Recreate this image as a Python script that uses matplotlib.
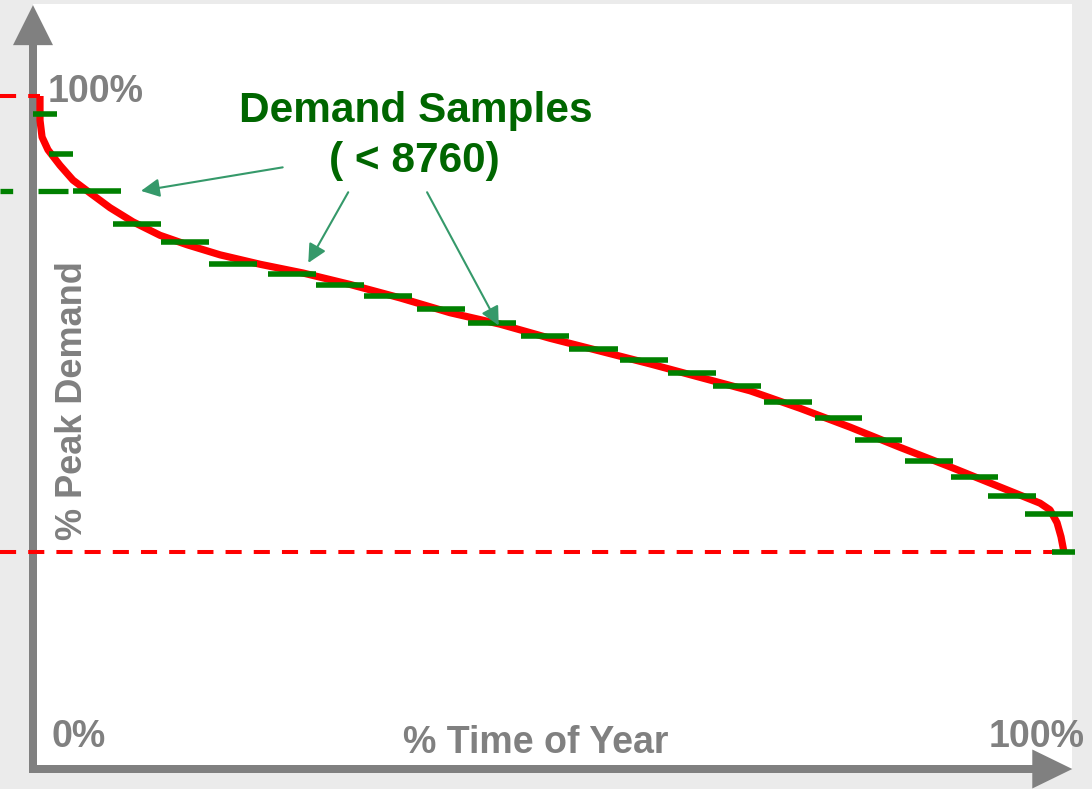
import matplotlib.pyplot as plt
from matplotlib.patches import FancyArrow, Rectangle

# load duration curve (% time of year -> % peak demand)
curve_time = [0, 0, 0.2, 0.78, 1.95, 3.22, 4.88, 6.84, 9.08, 11.72, 14.36, 17.58,
              21.48, 25.68, 30.27, 35.16, 40.04, 44.92, 49.8, 54.69, 59.57, 64.45,
              69.34, 74.22, 79.1, 83.98, 88.87, 93.75, 97.66, 98.63, 99.32, 99.71, 100]
curve_demand = [100, 96.4, 93.9, 92.0, 89.7, 87.5, 85.6, 83.4, 81.3, 79.3, 77.9, 76.4,
                75.0, 73.7, 72.0, 70.0, 67.8, 66.1, 64.0, 62.1, 60.2, 58.2,
                56.2, 53.6, 50.8, 47.8, 44.9, 41.9, 39.5, 38.5, 36.6, 34.5, 32.2]

# demand samples: start / end of time window and sampled level
sample_start = [-0.68, 0.88, 3.22, 7.13, 11.8, 16.5, 22.3, 26.95, 31.6, 36.8, 41.8, 47.0,
                51.7, 56.6, 61.3, 65.7, 70.7, 75.7, 79.6, 84.5, 89.0, 92.6, 96.2, 98.8]
sample_end = [1.66, 3.22, 7.91, 11.8, 16.5, 21.2, 26.95, 31.6, 36.3, 41.5, 46.5, 51.7,
              56.4, 61.3, 66.0, 70.4, 75.4, 80.3, 84.2, 89.2, 93.6, 97.3, 100.9, 101.1]
sample_level = [97.3, 91.4, 85.9, 81.0, 78.3, 75.0, 73.6, 71.9, 70.3, 68.4, 66.3, 64.3,
                62.4, 60.8, 58.8, 56.9, 54.5, 52.2, 48.9, 45.8, 43.4, 40.6, 37.9, 32.2]

peak = 100
minimum = min(curve_demand)

# pixel scale of the drawing (px per % unit)
PX_X = 10.24
PX_Y = 6.73

grey = '#808080'
font = 'Liberation Sans'

fig = plt.figure(figsize=(10.92, 7.89), dpi=100, facecolor='#ebebeb')
ax = fig.add_axes([0, 0, 1, 1])
ax.set_xlim(-40 / PX_X, (1092 - 40) / PX_X)
ax.set_ylim(-20 / PX_Y, 769 / PX_Y)
ax.axis('off')

# white panel
x0 = -7 / PX_X
ax.add_patch(Rectangle((x0, 0), 101.46, 113.67, facecolor='white',
                       edgecolor='none', zorder=0))

# green dashed guide for the third sample
ax.plot([-40 / PX_X, 2.73], [sample_level[2]] * 2, color='#008000', lw=3.8,
        linestyle=(4, (6.4, 4.8)), solid_capstyle='butt', zorder=1)

# axes arrows
ax.add_patch(FancyArrow(x0, 0, 0, 113.5, width=8 / PX_X, head_width=40 / PX_X,
                        head_length=40 / PX_Y, length_includes_head=True,
                        color=grey, lw=0, zorder=2))
ax.add_patch(FancyArrow(x0 - 4 / PX_X, 0, 101.2 - x0, 0, width=8 / PX_Y,
                        head_width=39 / PX_Y, head_length=40 / PX_X,
                        length_includes_head=True, color=grey, lw=0, zorder=2))

# reference lines for peak and minimum
ax.plot([-40 / PX_X, 0], [peak, peak], color='red', lw=2.9,
        linestyle=(0, (4, 3)), zorder=3)
ax.plot([-40 / PX_X, 100], [minimum, minimum], color='red', lw=2.9,
        linestyle=(0, (4, 3)), zorder=3)

# duration curve
ax.plot(curve_time, curve_demand, color='red', lw=5.2, solid_joinstyle='round',
        solid_capstyle='butt', zorder=4)

# samples
ax.hlines(sample_level, sample_start, sample_end, color='#008000', lw=4, zorder=5)

# labels
ax.text(36.67, 96.1, 'Demand Samples', color='#006600', fontsize=30.5,
        fontweight='bold', family=font, ha='center', va='baseline')
ax.text(36.6, 88.7, '( < 8760)', color='#006600', fontsize=30.5,
        fontweight='bold', family=font, ha='center', va='baseline')

arrows = [((23.7, 89.4), (9.86, 85.9)),
          ((30.1, 85.7), (26.2, 75.2)),
          ((37.8, 85.7), (44.8, 65.9))]
for tail, tip in arrows:
    ax.annotate('', xy=tip, xytext=tail,
                arrowprops=dict(arrowstyle='-|>', color='#35996a', lw=1.5,
                                mutation_scale=28, shrinkA=0, shrinkB=0),
                zorder=6)

ax.text(0.75, 99.1, '100%', color=grey, fontsize=27, fontweight='bold',
        family=font, ha='left', va='baseline')
ax.text(1.1, 3.27, '0%', color=grey, fontsize=27, fontweight='bold',
        family=font, ha='left', va='baseline')
ax.text(102.0, 3.27, '100%', color=grey, fontsize=27, fontweight='bold',
        family=font, ha='right', va='baseline')
ax.text(48.4, 2.38, '% Time of Year', color=grey, fontsize=27, fontweight='bold',
        family=font, ha='center', va='baseline')
ax.text(4.1, 54.8, '% Peak Demand', color=grey, fontsize=26, fontweight='bold',
        family=font, ha='center', va='baseline', rotation=90, rotation_mode='anchor')

fig.savefig('out.png', dpi=100, facecolor=fig.get_facecolor())
